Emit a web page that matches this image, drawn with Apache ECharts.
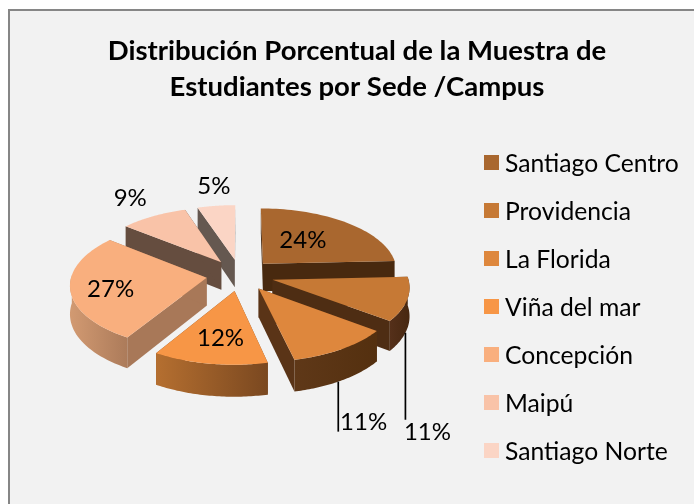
<!DOCTYPE html>
<html><head><meta charset="utf-8">
<style>html,body{margin:0;padding:0;background:#fff}#c{width:694px;height:504px}</style>
<script src="https://cdn.jsdelivr.net/npm/echarts@6/dist/echarts.min.js"></script>
</head><body><div id="c"></div>
<script>
const categories = ['Santiago Centro','Providencia','La Florida','Viña del mar','Concepción','Maipú','Santiago Norte'];
const values = [24,11,11,12,27,9,5];
const topColors = ['#A9672F','#C67935','#DE873D','#F79646','#F9AF7E','#F9C3A8','#FBD5C5'];
const sideColors = [['#48290F','#48290F'],['#55301A','#472710'],['#5F3818','#54300F'],['#B56F30','#7A4820'],['#D29A72','#AC7B5A'],['#654D3F','#654D3F'],['#655850','#655850']];
const radialColors = ['#48290F','#4E2D13','#5A3417','#7A4820','#A87858','#654D3F','#655850'];
const zOrder = [3,5,6,7,4,2,1];
// layout of the projected pie
const P = {cx:240, cy:275, rx:135, ry:63, persp:0.1, explode:0.25, depth:28};
// label layout, as pixel shifts from each wedge's tip
const labelShift = [[40,-24],[155,153],[105,134],[-14,47],[-96,12],[-91,-64],[-21,-74]];
const leaderDeg = [null,111,149,null,null,null,null];
const leaderLen = [0,87,50,0,0,0,0];

const total = values.reduce((a,b)=>a+b,0);
const starts = []; let acc = 0;
values.forEach(v=>{starts.push(acc/total*360); acc+=v;});
function proj(gx,gz){const w=1/(1-P.persp*gz);return [P.cx+P.rx*gx*w, P.cy+P.ry*gz*w, w];}
function wedge(i){
  const a0=starts[i]*Math.PI/180, a1=(starts[i]+values[i]/total*360)*Math.PI/180, m=(a0+a1)/2;
  const ex=P.explode*Math.sin(m), ez=-P.explode*Math.cos(m);
  const pt=a=>proj(ex+Math.sin(a),ez-Math.cos(a));
  const tip=proj(ex,ez);
  const arc=[];const n=48;
  for(let k=0;k<=n;k++)arc.push(pt(a0+(a1-a0)*k/n));
  return {tip,arc,pt,a0,a1};
}
const down=p=>[p[0],p[1]+P.depth*p[2]];
function poly(points,fill,z2){return {type:'polygon',z2,shape:{points:points.map(p=>[p[0],p[1]])},style:{fill,stroke:null},silent:true};}
function grad(c){return new echarts.graphic.LinearGradient(0,0,1,0,[{offset:0,color:c[0]},{offset:1,color:c[1]}]);}
function render(i){
  return function(){
    const w=wedge(i), children=[];
    const first=w.arc[0], last=w.arc[w.arc.length-1];
    children.push(poly([w.tip,first,down(first),down(w.tip)],radialColors[i],1));
    children.push(poly([w.tip,last,down(last),down(w.tip)],radialColors[i],1));
    const vis=w.arc.filter((p,k)=>{const a=w.a0+(w.a1-w.a0)*k/(w.arc.length-1);return a>Math.PI/2-0.06&&a<Math.PI*1.5+0.06;});
    if(vis.length>1)children.push(poly(vis.concat(vis.slice().reverse().map(down)),grad(sideColors[i]),2));
    children.push(poly([w.tip].concat(w.arc),topColors[i],3));
    if(leaderDeg[i]!==null){
      const b=down(w.pt(leaderDeg[i]*Math.PI/180));
      children.push({type:'line',z2:4,shape:{x1:b[0],y1:b[1],x2:b[0],y2:b[1]+leaderLen[i]},style:{stroke:'#000',lineWidth:1.7}});
    }
    children.push({type:'text',z2:5,x:w.tip[0]+labelShift[i][0],y:w.tip[1]+labelShift[i][1],style:{text:values[i]+'%',fill:'#000',font:'24px Lato',align:'center',verticalAlign:'middle'}});
    return {type:'group',children};
  };
}
const series=categories.map((name,i)=>({name,type:'custom',coordinateSystem:'none',z:zOrder[i],animation:false,silent:true,
  itemStyle:{color:topColors[i]},data:[values[i]],renderItem:render(i)}));
const chart=echarts.init(document.getElementById('c'),null,{renderer:'canvas'});
chart.setOption({
  animation:false,backgroundColor:'#fff',
  graphic:[{type:'rect',z:-10,shape:{x:9,y:10,width:700,height:600},style:{fill:'#F2F2F2',stroke:'#868686',lineWidth:2}}],
  title:{text:'Distribución Porcentual de la Muestra de\nEstudiantes por Sede /Campus',left:352,top:28,textAlign:'center',
    textStyle:{fontFamily:'Lato',fontWeight:'bold',fontSize:27.5,color:'#000',lineHeight:36}},
  legend:{orient:'vertical',left:479,top:143,itemWidth:15,itemHeight:15,itemGap:19,icon:'rect',selectedMode:false,data:categories,
    formatter:n=>'{a|'+n+'}',
    textStyle:{rich:{a:{fontFamily:'Lato',fontSize:24.7,color:'#000',padding:[4,0,0,1],lineHeight:25}}}},
  series
});
</script></body></html>
